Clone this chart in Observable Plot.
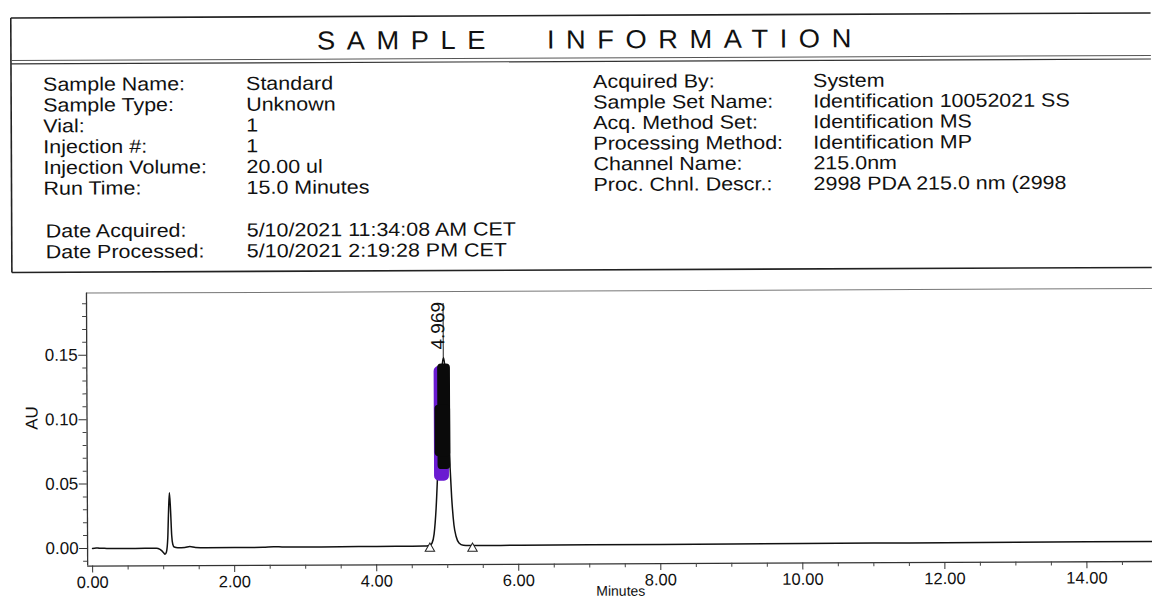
<!DOCTYPE html>
<html><head><meta charset="utf-8">
<script src="https://cdn.jsdelivr.net/npm/d3@7"></script>
<script src="https://cdn.jsdelivr.net/npm/@observablehq/plot@0.6"></script>
<style>
html,body{margin:0;padding:0;background:#fff;overflow:hidden;width:1152px;height:604px}
#page{width:1152px;height:604px;transform:rotate(-0.25deg);transform-origin:0 300px;background:#fff}
#header{display:block}
#chart svg{display:block}
</style></head><body><div id="page"><svg id="header"></svg><div id="chart"></div></div>
<script>
// ---------- header text ----------
const titleWords = ["SAMPLE", "INFORMATION"];
const leftLabels = ["Sample Name:", "Sample Type:", "Vial:", "Injection #:", "Injection Volume:", "Run Time:"];
const leftValues = ["Standard", "Unknown", "1", "1", "20.00 ul", "15.0 Minutes"];
const dateLabels = ["Date Acquired:", "Date Processed:"];
const dateValues = ["5/10/2021 11:34:08 AM CET", "5/10/2021 2:19:28 PM CET"];
const rightLabels = ["Acquired By:", "Sample Set Name:", "Acq. Method Set:", "Processing Method:", "Channel Name:", "Proc. Chnl. Descr.:"];
const rightValues = ["System", "Identification 10052021 SS", "Identification MS", "Identification MP", "215.0nm", "2998 PDA 215.0 nm (2998"];

// ---------- chromatogram (minutes, AU) ----------
const traceTime = [0.00,0.05,0.10,0.20,0.40,0.60,0.80,0.90,0.95,1.00,
  1.02,1.04,1.06,1.07,1.085,1.10,1.115,1.13,1.15,1.20,
  1.30,1.37,1.45,1.60,2.00,2.40,2.55,2.70,3.00,3.50,
  4.00,4.50,4.70,4.75,4.78,4.81,4.84,4.87,4.90,4.93,
  4.95,4.97,5.00,5.03,5.06,5.09,5.12,5.16,5.22,5.30,
  5.50,6.00,7.00,8.00,9.00,10.00,11.00,12.00,13.00,14.00,15.00];
const traceAU = [0.0000,0.0004,0.0001,0.0000,-0.0002,-0.0001,0.0000,0.0000,-0.0010,-0.0035,
  -0.0048,-0.0030,0.0080,0.0250,0.0430,0.0300,0.0100,0.0030,0.0008,0.0003,
  0.0005,0.0012,0.0004,0.0002,0.0002,0.0003,0.0008,0.0004,0.0004,0.0005,
  0.0006,0.0007,0.0008,0.0012,0.0030,0.0100,0.0300,0.0650,0.1050,0.1380,
  0.1470,0.1410,0.1120,0.0720,0.0380,0.0170,0.0080,0.0030,0.0012,0.0010,
  0.0010,0.0010,0.0011,0.0012,0.0013,0.0014,0.0015,0.0016,0.0017,0.0018,0.0019];

// integrated peak: apex, label, marker line top
const peakApexTime = [4.95];
const peakApexAU = [0.147];
const peakLabels = ["4.969"];
const peakLineTopAU = [0.189];
// integration start/end markers
const markerTime = [4.75, 5.35];
const markerAU = [0.0012, 0.0010];
// pen highlights on the printout (x1, x2 in minutes; y1, y2 in AU)
const purpleX1 = [4.82], purpleX2 = [5.03], purpleY1 = [0.051], purpleY2 = [0.140];
const blackX1 = [4.87, 4.83], blackX2 = [5.05, 5.05], blackY1 = [0.060, 0.070], blackY2 = [0.142, 0.110];

// axes
const xDomain = [-0.07, 14.94];
const yDomain = [-0.0137, 0.1982];
const xMajor = [0, 2, 4, 6, 8, 10, 12, 14];
const xMinor = [0.5,1,1.5,2.5,3,3.5,4.5,5,5.5,6.5,7,7.5,8.5,9,9.5,10.5,11,11.5,12.5,13,13.5,14.5];
const yMajor = [0, 0.05, 0.10, 0.15];
const yMinor = [-0.01,0.01,0.02,0.03,0.04,0.06,0.07,0.08,0.09,0.11,0.12,0.13,0.14,0.16,0.17,0.18,0.19];
const xLabel = "Minutes", yLabel = "AU";

const FONT = "'Liberation Sans', Arial, Helvetica, sans-serif";

// ---------- header drawing ----------
const hdr = d3.select("#header").attr("width", 1152).attr("height", 280)
  .style("font-family", FONT).style("fill", "#111");
hdr.append("line").attr("x1", 12).attr("x2", 1152).attr("y1", 18).attr("y2", 18).attr("stroke", "#222").attr("stroke-width", 1.6);
hdr.append("line").attr("x1", 12).attr("x2", 12).attr("y1", 18).attr("y2", 272.5).attr("stroke", "#222").attr("stroke-width", 1.6);
hdr.append("line").attr("x1", 12).attr("x2", 1152).attr("y1", 272.5).attr("y2", 272.5).attr("stroke", "#222").attr("stroke-width", 1.6);
hdr.append("line").attr("x1", 12).attr("x2", 1152).attr("y1", 60.5).attr("y2", 60.5).attr("stroke", "#555").attr("stroke-width", 1);
hdr.append("line").attr("x1", 12).attr("x2", 1152).attr("y1", 64).attr("y2", 64).attr("stroke", "#333").attr("stroke-width", 1.2);

function txt(s, x, y, fs, sx, ls) {
  hdr.append("text").text(s)
    .attr("transform", `translate(${x},${y}) scale(${sx},1)`)
    .attr("font-size", fs).attr("letter-spacing", ls || 0);
}
txt(titleWords[0], 318, 51, 26, 1.05, 11.0);
txt(titleWords[1], 548, 51, 26, 1.05, 11.0);
leftLabels.forEach((s, i) => txt(s, 44, 91 + i * 20.8, 19, 1.13));
leftValues.forEach((s, i) => txt(s, 247, 91 + i * 20.8, 19, 1.13));
dateLabels.forEach((s, i) => txt(s, 46, 237.6 + i * 20.8, 19, 1.13));
dateValues.forEach((s, i) => txt(s, 247, 237.6 + i * 20.8, 19, 1.13));
rightLabels.forEach((s, i) => txt(s, 594, 90.5 + i * 20.6, 19, 1.13));
rightValues.forEach((s, i) => txt(s, 814, 90.5 + i * 20.6, 19, 1.13));

// ---------- chart ----------
const trace = traceTime.map((t, i) => ({t, au: traceAU[i]}));
const peaks = peakApexTime.map((t, i) => ({t, au: peakApexAU[i], label: peakLabels[i], top: peakLineTopAU[i]}));
const markers = markerTime.map((t, i) => ({t, au: markerAU[i]}));
const purple = purpleX1.map((x1, i) => ({x1, x2: purpleX2[i], y1: purpleY1[i], y2: purpleY2[i]}));
const black = blackX1.map((x1, i) => ({x1, x2: blackX2[i], y1: blackY1[i], y2: blackY2[i]}));

const chart = Plot.plot({
  width: 1152, height: 324,
  marginLeft: 86, marginRight: 0, marginTop: 13, marginBottom: 38,
  style: {fontFamily: FONT, fontSize: "17px", color: "#111", background: "transparent", overflow: "visible"},
  x: {domain: xDomain},
  y: {domain: yDomain},
  marks: [
    Plot.ruleY([yDomain[1]], {stroke: "#777", strokeWidth: 1}),
    Plot.ruleY([yDomain[0]], {stroke: "#333", strokeWidth: 1.3}),
    Plot.ruleX([xDomain[0]], {stroke: "#333", strokeWidth: 1.3}),
    Plot.axisY({ticks: yMajor, tickSize: 8, tickPadding: 1, tickFormat: d3.format(".2f"), fontSize: 17, label: null, stroke: "#333"}),
    Plot.axisY({ticks: yMinor, tickSize: 4, tickFormat: () => "", label: null, stroke: "#444"}),
    Plot.axisX({ticks: xMajor, tickSize: 7, tickPadding: 3, tickFormat: d3.format(".2f"), fontSize: 16.5, label: null, stroke: "#333"}),
    Plot.axisX({ticks: xMinor, tickSize: 4, tickFormat: () => "", label: null, stroke: "#444"}),
    Plot.text([xLabel], {frameAnchor: "bottom", lineAnchor: "top", dy: 22, fontSize: 14, fill: "#111"}),
    Plot.text([yLabel], {frameAnchor: "left", rotate: -90, dx: -55, fontSize: 17, fill: "#111"}),
    Plot.line(trace, {x: "t", y: "au", curve: "monotone-x", stroke: "#111", strokeWidth: 1.5}),
    Plot.rect(purple, {x1: "x1", x2: "x2", y1: "y1", y2: "y2", fill: "#6a1bd1", rx: 5}),
    Plot.rect(black, {x1: "x1", x2: "x2", y1: "y1", y2: "y2", fill: "#0a0a0a", rx: 4}),
    Plot.ruleX(peaks, {x: "t", y1: "au", y2: "top", stroke: "#222", strokeWidth: 1}),
    Plot.text(peaks, {x: "t", y: "au", text: "label", rotate: -90, textAnchor: "start", lineAnchor: "middle", dx: -5, dy: -8, fontSize: 19, fill: "#111"}),
    Plot.dot(markers, {x: "t", y: "au", symbol: "triangle", r: 3.5, fill: "white", stroke: "#222", strokeWidth: 1, dy: 3})
  ]
});
document.getElementById("chart").appendChild(chart);
</script></body></html>
